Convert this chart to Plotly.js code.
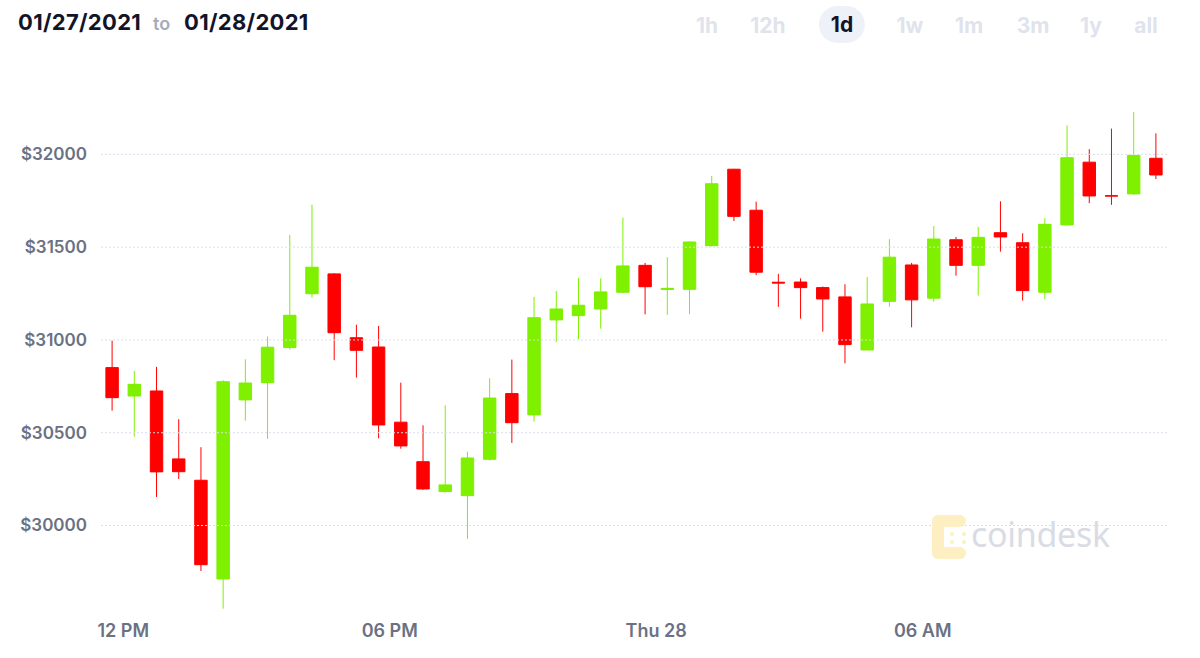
<!DOCTYPE html>
<html>
<head>
<meta charset="utf-8">
<script src="https://cdn.plot.ly/plotly-3.0.1.min.js"></script>
<style>
  html, body { margin:0; padding:0; background:#fff; }
  #wrap { position:relative; width:1200px; height:658px; overflow:hidden; font-family: Inter, "Noto Sans", sans-serif; }
  #chart { position:absolute; left:0; top:0; width:1200px; height:658px; }
  .hd { position:absolute; top:7px; font-size:22px; font-weight:700; color:#12152a; line-height:30px; white-space:nowrap; letter-spacing:0.3px; }
  .to { font-size:18px; font-weight:600; color:#a6abba; letter-spacing:0; }
  .btn { position:absolute; top:9px; font-size:21px; font-weight:700; color:#dfe3ec; line-height:34px; transform:translateX(-50%); white-space:nowrap; }
  .btn.on { color:#12152a; background:#eef1f8; border-radius:19px; padding:0 12px; top:6px; line-height:37px; }
  #wm { position:absolute; left:930px; top:512px; pointer-events:none; }
  #wmtext { position:absolute; left:971px; top:511px; font-size:34px; font-weight:400; color:#d9dce4; letter-spacing:-0.3px; font-family: "Noto Sans", Inter, sans-serif; pointer-events:none; }
</style>
</head>
<body>
<div id="wrap">
  <div id="chart"></div>
  <div class="hd" style="left:18px;">01/27/2021</div>
  <div class="hd to" style="left:153px; top:9px;">to</div>
  <div class="hd" style="left:184px;">01/28/2021</div>
  <div class="btn" style="left:707px;">1h</div>
  <div class="btn" style="left:768px;">12h</div>
  <div class="btn on" style="left:842px;">1d</div>
  <div class="btn" style="left:910px;">1w</div>
  <div class="btn" style="left:969px;">1m</div>
  <div class="btn" style="left:1033px;">3m</div>
  <div class="btn" style="left:1091px;">1y</div>
  <div class="btn" style="left:1146px;">all</div>
  <svg id="wm" width="40" height="48" viewBox="0 0 40 48">
    <g fill="#fdefc2">
      <circle cx="8" cy="9" r="6"/><circle cx="19" cy="9" r="6"/><circle cx="30" cy="9" r="6"/>
      <circle cx="8" cy="20" r="6"/><circle cx="8" cy="31" r="6"/>
      <circle cx="8" cy="41" r="6"/><circle cx="19" cy="41" r="6"/><circle cx="30" cy="41" r="6"/>
      <rect x="2" y="9" width="12" height="32"/><rect x="8" y="3" width="22" height="12"/><rect x="8" y="35" width="22" height="12"/>
      <circle cx="22" cy="22" r="2"/><circle cx="34" cy="22" r="2"/><circle cx="22" cy="30" r="2"/><circle cx="34" cy="30" r="2"/>
    </g>
  </svg>
  <div id="wmtext">coindesk</div>
</div>
<script>
// 30-minute candles (time = period midpoint)
const times = [
  "2021-01-27 11:45","2021-01-27 12:15","2021-01-27 12:45","2021-01-27 13:15","2021-01-27 13:45",
  "2021-01-27 14:15","2021-01-27 14:45","2021-01-27 15:15","2021-01-27 15:45","2021-01-27 16:15",
  "2021-01-27 16:45","2021-01-27 17:15","2021-01-27 17:45","2021-01-27 18:15","2021-01-27 18:45",
  "2021-01-27 19:15","2021-01-27 19:45","2021-01-27 20:15","2021-01-27 20:45","2021-01-27 21:15",
  "2021-01-27 21:45","2021-01-27 22:15","2021-01-27 22:45","2021-01-27 23:15","2021-01-27 23:45",
  "2021-01-28 00:15","2021-01-28 00:45","2021-01-28 01:15","2021-01-28 01:45","2021-01-28 02:15",
  "2021-01-28 02:45","2021-01-28 03:15","2021-01-28 03:45","2021-01-28 04:15","2021-01-28 04:45",
  "2021-01-28 05:15","2021-01-28 05:45","2021-01-28 06:15","2021-01-28 06:45","2021-01-28 07:15",
  "2021-01-28 07:45","2021-01-28 08:15","2021-01-28 08:45","2021-01-28 09:15","2021-01-28 09:45",
  "2021-01-28 10:15","2021-01-28 10:45","2021-01-28 11:15"
];
const openP  = [30851,30698,30725,30359,30244,29712,30677,30770,30959,31249,31356,31012,30962,30557,30344,30183,30161,30357,30711,30596,31108,31131,31167,31257,31402,31272,31273,31508,31920,31699,31311,31312,31282,31232,30946,31208,31404,31225,31540,31402,31578,31524,31257,31620,31958,31777,31787,31979];
const highP  = [30996,30833,30855,30573,30422,30783,30896,31018,31566,31729,31360,31082,31075,30770,30540,30648,30398,30794,30894,31232,31264,31334,31332,31659,31415,31446,31532,31884,31922,31745,31356,31332,31288,31300,31339,31543,31415,31614,31555,31609,31747,31575,31656,32156,32028,32139,32228,32113];
const lowP   = [30619,30479,30154,30251,29755,29552,30565,30467,30948,31228,30891,30797,30470,30414,30192,30177,29928,30350,30445,30560,30989,31004,31061,31252,31138,31135,31138,31503,31641,31349,31178,31115,31045,30874,30944,31179,31068,31206,31346,31239,31476,31212,31219,31618,31737,31728,31782,31867];
const closeP = [30689,30761,30289,30290,29789,30775,30768,30961,31133,31392,31039,30944,30542,30429,30197,30219,30364,30687,30554,31120,31167,31187,31259,31399,31287,31278,31528,31842,31666,31365,31307,31282,31221,30975,31194,31446,31216,31544,31402,31553,31555,31266,31623,31982,31776,31776,31995,31889];

const xTickVals = ["2021-01-27 12:00","2021-01-27 18:00","2021-01-28 00:00","2021-01-28 06:00"];
const xTickText = ["12 PM","06 PM","Thu 28","06 AM"];
const yTickVals = [30000,30500,31000,31500,32000];
const yTickText = ["$30000","$30500","$31000","$31500","$32000"];

const GREEN = "#7ef000", RED = "#ff0000";
const tickFont = {family:"Inter, 'Noto Sans', sans-serif", size:17, color:"#6b7183", weight:600};

const trace = {
  type:"candlestick",
  x: times, open: openP, high: highP, low: lowP, close: closeP,
  increasing: {line:{color:GREEN, width:1}, fillcolor:GREEN},
  decreasing: {line:{color:RED, width:1}, fillcolor:RED},
  whiskerwidth: 0,
  hoverinfo: "skip"
};

const gridShapes = yTickVals.map(v => ({
  type:"line", xref:"paper", x0:0, x1:1, yref:"y", y0:v, y1:v,
  line:{color:"#d9deeb", width:1, dash:"2px,2px"}, layer:"above"
}));

const layout = {
  width:1200, height:658,
  margin:{l:101, r:33, t:100, b:46, pad:0},
  paper_bgcolor:"rgba(0,0,0,0)", plot_bgcolor:"rgba(0,0,0,0)",
  showlegend:false,
  hovermode:false,
  boxgap:0.2,
  xaxis:{
    type:"date",
    range:["2021-01-27 11:30","2021-01-28 11:30"],
    tickmode:"array", tickvals:xTickVals, ticktext:xTickText,
    showgrid:false, zeroline:false, showline:false, ticks:"",
    tickfont:Object.assign({}, tickFont, {size:18}), ticklabelstandoff:6,
    rangeslider:{visible:false}, fixedrange:true
  },
  yaxis:{
    range:[29534, 32293],
    tickmode:"array", tickvals:yTickVals, ticktext:yTickText,
    showgrid:false, zeroline:false, showline:false, ticks:"",
    tickfont:tickFont, ticklabelstandoff:13, fixedrange:true
  },
  shapes: gridShapes
};

Plotly.newPlot("chart", [trace], layout, {displayModeBar:false, staticPlot:true});
</script>
</body>
</html>
